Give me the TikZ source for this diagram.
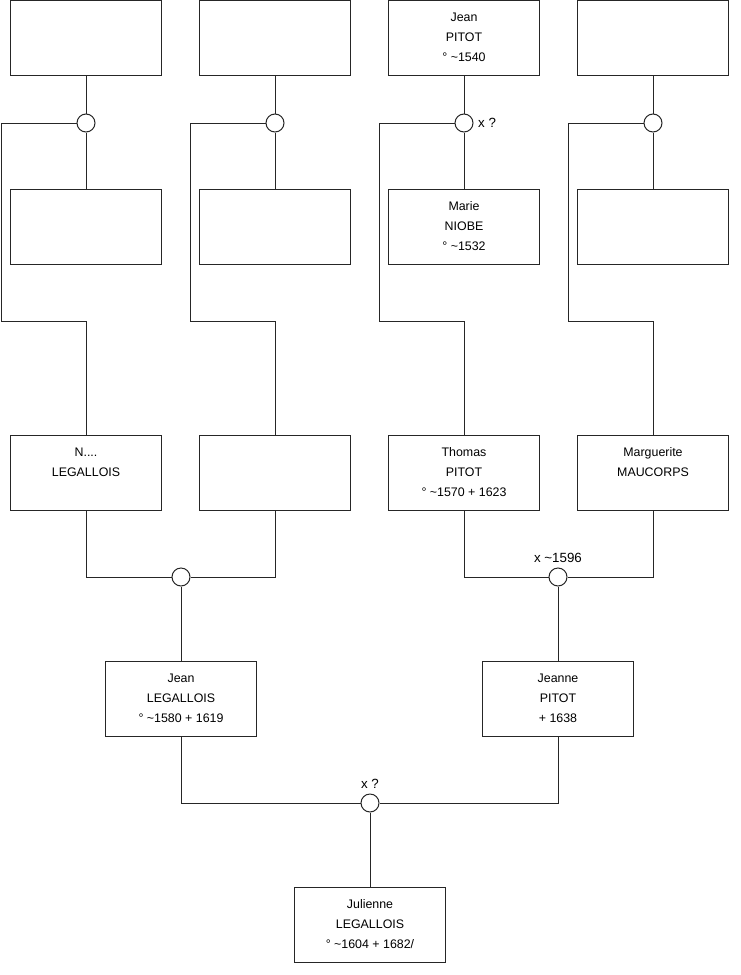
\documentclass[tikz,border=0pt]{standalone}
\usepackage{fontspec}
\setmainfont{Liberation Sans}
\usetikzlibrary{positioning}
\newcommand{\who}[1]{\parbox[c][38pt][t]{110pt}{\centering #1}}
\tikzset{
    % ancestor boxes
    person/.style={
        rectangle,
        draw=black!85,
        fill=white,
        line width=0.75pt,
        anchor=north,
        inner sep=0pt,
        minimum width=113.25pt,
        minimum height=56.25pt,
        font=\fontsize{9.3}{15}\selectfont
    },
    % marriage rings
    union/.style={
        circle,
        draw=black!85,
        fill=white,
        line width=0.75pt,
        inner sep=0pt,
        minimum size=13.5pt,
        label distance=1pt,
        font=\fontsize{9.3}{11}\selectfont
    },
    tie/.style={
        draw=black!85,
        line width=0.75pt
    }
}
\begin{document}
\begin{tikzpicture}[x=0.75pt, y=-0.75pt]
    \useasboundingbox (0,0) rectangle (740,975);

    % Generation 1
    \node[person] (pa1) at (86,0) {};
    \node[person] (pa2) at (275,0) {};
    \node[person] (pa3) at (464,0) {\who{Jean\\PITOT\\° \textasciitilde 1540}};
    \node[person] (pa4) at (653,0) {};

    \node[person] (ma1) at (86,189) {};
    \node[person] (ma2) at (275,189) {};
    \node[person] (ma3) at (464,189) {\who{Marie\\NIOBE\\° \textasciitilde 1532}};
    \node[person] (ma4) at (653,189) {};

    \node[union] (u1) at (86,123) {};
    \node[union] (u2) at (275,123) {};
    \node[union, label={right:x ?}] (u3) at (464,123) {};
    \node[union] (u4) at (653,123) {};

    % Generation 2
    \node[person] (nl) at (86,435) {\who{N....\\LEGALLOIS}};
    \node[person] (wl) at (275,435) {};
    \node[person] (tp) at (464,435) {\who{Thomas\\PITOT\\° \textasciitilde 1570 + 1623}};
    \node[person] (mm) at (653,435) {\who{Marguerite\\MAUCORPS}};

    \node[union] (ul) at (181,577) {};
    \node[union, label={above:x \textasciitilde 1596}] (up) at (558,577) {};

    % Generation 3
    \node[person] (jl) at (181,661) {\who{Jean\\LEGALLOIS\\° \textasciitilde 1580 + 1619}};
    \node[person] (jp) at (558,661) {\who{Jeanne\\PITOT\\ + 1638}};

    \node[union, label={above:x ?}] (ub) at (370,803) {};

    % Generation 4
    \node[person] (ju) at (370,887) {\who{Julienne\\LEGALLOIS\\° \textasciitilde 1604 + 1682/}};

    % Links
    \foreach \i/\c in {1/nl, 2/wl, 3/tp, 4/mm} {
        \draw[tie] (pa\i) -- (u\i) -- (ma\i);
        \draw[tie] (u\i.west) -- ++(-75,0) -- ++(0,198) -| (\c.north);
    }
    \draw[tie] (nl.south) |- (ul.west);
    \draw[tie] (wl.south) |- (ul.east);
    \draw[tie] (ul) -- (jl);
    \draw[tie] (tp.south) |- (up.west);
    \draw[tie] (mm.south) |- (up.east);
    \draw[tie] (up) -- (jp);
    \draw[tie] (jl.south) |- (ub.west);
    \draw[tie] (jp.south) |- (ub.east);
    \draw[tie] (ub) -- (ju);
\end{tikzpicture}
\end{document}
